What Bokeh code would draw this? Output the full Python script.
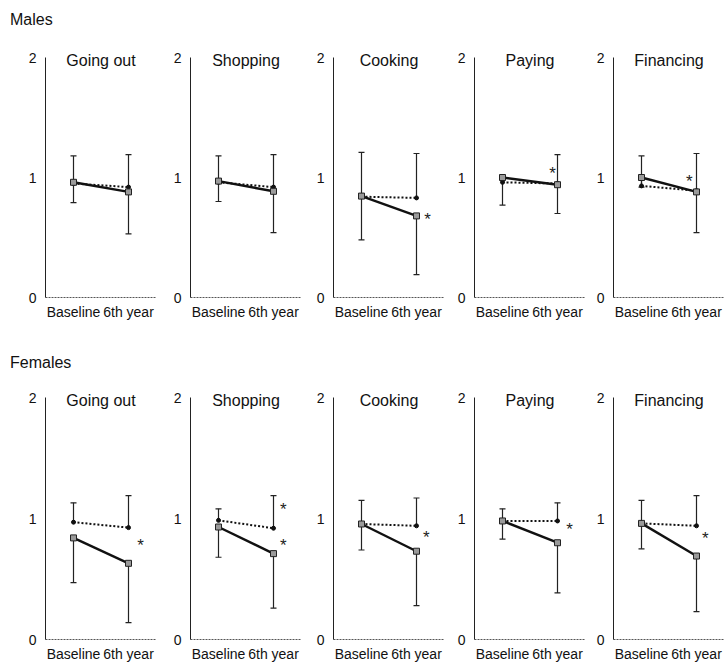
from bokeh.plotting import figure
from bokeh.layouts import column, row
from bokeh.models import Div, FixedTicker, Range1d, Label
from bokeh.embed import file_html
from bokeh.resources import INLINE
from bokeh.core.properties import value

# ---------------- data ----------------
activities = ["Going out", "Shopping", "Cooking", "Paying", "Financing"]
time_points = [1, 2]
time_labels = ["Baseline", "6th year"]
y_ticks = [0, 1, 2]

# Males: solid series (mean, lower bound) and dotted series (mean, upper bound)
male_solid = [[0.96, 0.88], [0.97, 0.885], [0.845, 0.68], [1.00, 0.94], [1.00, 0.88]]
male_solid_low = [[0.79, 0.53], [0.80, 0.54], [0.48, 0.19], [0.77, 0.70], [0.92, 0.54]]
male_dotted = [[0.95, 0.92], [0.96, 0.92], [0.84, 0.83], [0.96, 0.95], [0.93, 0.89]]
male_dotted_up = [[1.18, 1.19], [1.18, 1.19], [1.21, 1.20], [1.01, 1.19], [1.18, 1.20]]
# significance marks: (panel, x, y)
male_stars = [(2, 2.20, 0.68), (3, 1.91, 1.07), (4, 1.87, 1.00)]

# Females
fem_solid = [[0.84, 0.63], [0.93, 0.71], [0.955, 0.73], [0.98, 0.80], [0.96, 0.69]]
fem_solid_low = [[0.47, 0.14], [0.68, 0.26], [0.74, 0.28], [0.83, 0.385], [0.75, 0.23]]
fem_dotted = [[0.97, 0.925], [0.985, 0.92], [0.955, 0.94], [0.98, 0.98], [0.96, 0.94]]
fem_dotted_up = [[1.13, 1.19], [1.08, 1.19], [1.15, 1.17], [1.08, 1.13], [1.15, 1.19]]
fem_stars = [(0, 2.22, 0.81), (1, 2.18, 1.11), (1, 2.18, 0.81), (2, 2.18, 0.875),
             (3, 2.22, 0.94), (4, 2.16, 0.87)]

# ---------------- layout constants ----------------
FONT = "Liberation Sans"
FRAME_W = 110
PX_PER_UNIT = 55.0
X0 = 1 - 28 / PX_PER_UNIT
X1 = X0 + FRAME_W / PX_PER_UNIT
Y_TOP = 2.1
# left border / right border per panel (figure widths 168, 143, 141, 139, 133)
LEFTS = [45, 22, 22, 22, 22]
RIGHTS = [13, 11, 9, 7, 1]


def make_panel(k, title, solid, low, dotted, up, stars, b_top, b_bottom, frame_h):
    left, right = LEFTS[k], RIGHTS[k]
    p = figure(width=left + FRAME_W + right, height=b_top + frame_h + b_bottom,
               x_range=Range1d(X0, X1), y_range=Range1d(0, Y_TOP),
               output_backend="svg", toolbar_location=None,
               min_border_left=left, min_border_right=right,
               min_border_top=b_top, min_border_bottom=b_bottom)
    p.outline_line_color = None
    p.xgrid.visible = False
    p.ygrid.visible = False
    p.background_fill_color = "white"
    p.border_fill_color = "white"

    for ax in (p.xaxis[0], p.yaxis[0]):
        ax.major_tick_in = 0
        ax.major_tick_out = 0
        ax.minor_tick_in = 0
        ax.minor_tick_out = 0
        ax.major_label_text_font = FONT
        ax.major_label_text_font_size = "14px"
        ax.major_label_text_color = "#111111"
    p.yaxis.ticker = FixedTicker(ticks=y_ticks)
    p.yaxis.bounds = (0, 2)
    p.yaxis.major_label_standoff = 9
    p.yaxis.axis_line_color = "#222222"
    p.yaxis.axis_line_width = 1
    p.xaxis.ticker = FixedTicker(ticks=time_points)
    p.xaxis.major_label_overrides = {t: lab for t, lab in zip(time_points, time_labels)}
    p.xaxis.major_label_standoff = 6
    p.xaxis.axis_line_color = "#555555"
    p.xaxis.axis_line_dash = "2 1"

    xs = time_points
    # error bars: dotted series upward, solid series downward
    p.segment(x0=xs, y0=dotted, x1=xs, y1=up, line_color="#222222", line_width=1.2)
    p.segment(x0=xs, y0=solid, x1=xs, y1=low, line_color="#222222", line_width=1.2)
    p.scatter(x=xs, y=up, marker="dash", size=6, line_color="#222222", line_width=1.2)
    p.scatter(x=xs, y=low, marker="dash", size=6, line_color="#222222", line_width=1.2)

    # dotted series
    p.line(x=xs, y=dotted, line_color="#111111", line_width=2, line_dash="2 2")
    p.scatter(x=xs, y=dotted, marker="circle", size=4, fill_color="#111111",
              line_color="#111111")
    # solid series
    p.line(x=xs, y=solid, line_color="#111111", line_width=2.4)
    p.scatter(x=xs, y=solid, marker="square", size=6, fill_color="#9a9a9a",
              line_color="#222222", line_width=1)

    sx = [s[1] for s in stars if s[0] == k]
    sy = [s[2] for s in stars if s[0] == k]
    if sx:
        p.text(x=sx, y=sy, text=["*"] * len(sx), text_align="center",
               text_baseline="middle", y_offset=4, text_font=value(FONT),
               text_font_size="17px", text_color="#222222")

    p.add_layout(Label(x=1.5, y=2, text=title, text_align="center",
                       text_baseline="middle", y_offset=-3, text_font=FONT,
                       text_font_size="16px", text_color="#111111"))
    return p


def heading(text, pad_top, height):
    return Div(text=('<div style="font-family:\'Liberation Sans\';font-size:16px;'
                     'line-height:24px;padding-left:10px;padding-top:%dpx;'
                     'color:#111">%s</div>') % (pad_top, text),
               width=300, height=height, margin=(0, 0, 0, 0))


top = [make_panel(k, activities[k], male_solid[k], male_solid_low[k], male_dotted[k],
                  male_dotted_up[k], male_stars, 13, 25, 252) for k in range(5)]
bottom = [make_panel(k, activities[k], fem_solid[k], fem_solid_low[k], fem_dotted[k],
                     fem_dotted_up[k], fem_stars, 11, 23, 256) for k in range(5)]

layout = column(heading("Males", 8, 32), row(*top), heading("Females", 29, 52), row(*bottom))

open("out.html", "w").write(file_html(layout, INLINE))
